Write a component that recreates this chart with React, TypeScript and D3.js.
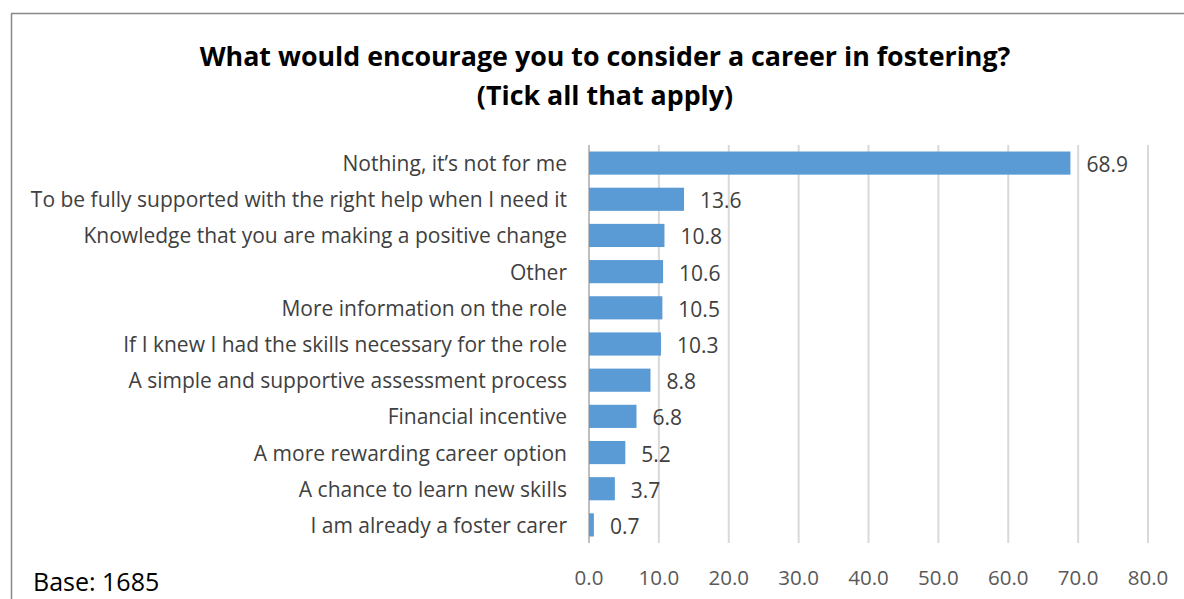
import React from "react";
import * as d3 from "d3";

const categories = [
  "Nothing, it’s not for me",
  "To be fully supported with the right help when I need it",
  "Knowledge that you are making a positive change",
  "Other",
  "More information on the role",
  "If I knew I had the skills necessary for the role",
  "A simple and supportive assessment process",
  "Financial incentive",
  "A more rewarding career option",
  "A chance to learn new skills",
  "I am already a foster carer",
];
const values = [68.9, 13.6, 10.8, 10.6, 10.5, 10.3, 8.8, 6.8, 5.2, 3.7, 0.7];
const xTicks = [0, 10, 20, 30, 40, 50, 60, 70, 80];
const titleLines = [
  "What would encourage you to consider a career in fostering?",
  "(Tick all that apply)",
];
const baseNote = "Base: 1685";

const W = 1184;
const H = 599;
const FONT = "'Open Sans', sans-serif";

export default function App() {
  const x = d3.scaleLinear().domain([0, 80]).range([589, 1148]);
  const y = d3
    .scaleBand<string>()
    .domain(categories)
    .range([145, 543])
    .paddingInner(0.36)
    .paddingOuter(0.18);
  const bw = y.bandwidth();
  return (
    <div style={{ position: "absolute", left: 0, top: 0 }}>
      <svg width={W} height={H} style={{ display: "block", fontFamily: FONT }}>
        <rect x={0} y={0} width={W} height={H} fill="#fff" />
        <line x1={11.5} y1={13.5} x2={11.5} y2={H} stroke="#888" strokeWidth={1.5} />
        <line x1={11} y1={13.5} x2={W} y2={13.5} stroke="#888" strokeWidth={1.5} />
        {titleLines.map((t, i) => (
          <text
            key={i}
            x={605}
            y={55 + i * 39}
            textAnchor="middle"
            dominantBaseline="central"
            fontWeight="bold"
            fontSize={26.8}
            fill="#000"
          >
            {t}
          </text>
        ))}
        {xTicks.map((t) => (
          <g key={t}>
            <line
              x1={x(t)}
              x2={x(t)}
              y1={145}
              y2={543}
              stroke={t === 0 ? "#BFBFBF" : "#D9D9D9"}
              strokeWidth={2}
            />
            <text
              x={x(t)}
              y={577}
              textAnchor="middle"
              dominantBaseline="central"
              fontSize={20.5}
              fill="#595959"
            >
              {t.toFixed(1)}
            </text>
          </g>
        ))}
        {categories.map((c, i) => (
          <g key={c}>
            <rect x={x(0)} y={y(c)!} width={x(values[i]) - x(0)} height={bw} fill="#5B9BD5" />
            <text
              x={x(values[i]) + 16}
              y={y(c)! + bw / 2 + 1}
              dominantBaseline="central"
              fontSize={21}
              fill="#404040"
            >
              {values[i].toFixed(1)}
            </text>
            <text
              x={567}
              y={y(c)! + bw / 2}
              textAnchor="end"
              dominantBaseline="central"
              fontSize={21}
              fill="#404040"
            >
              {c}
            </text>
          </g>
        ))}
        <text x={33} y={581} dominantBaseline="central" fontSize={25} fill="#000">
          {baseNote}
        </text>
      </svg>
    </div>
  );
}
